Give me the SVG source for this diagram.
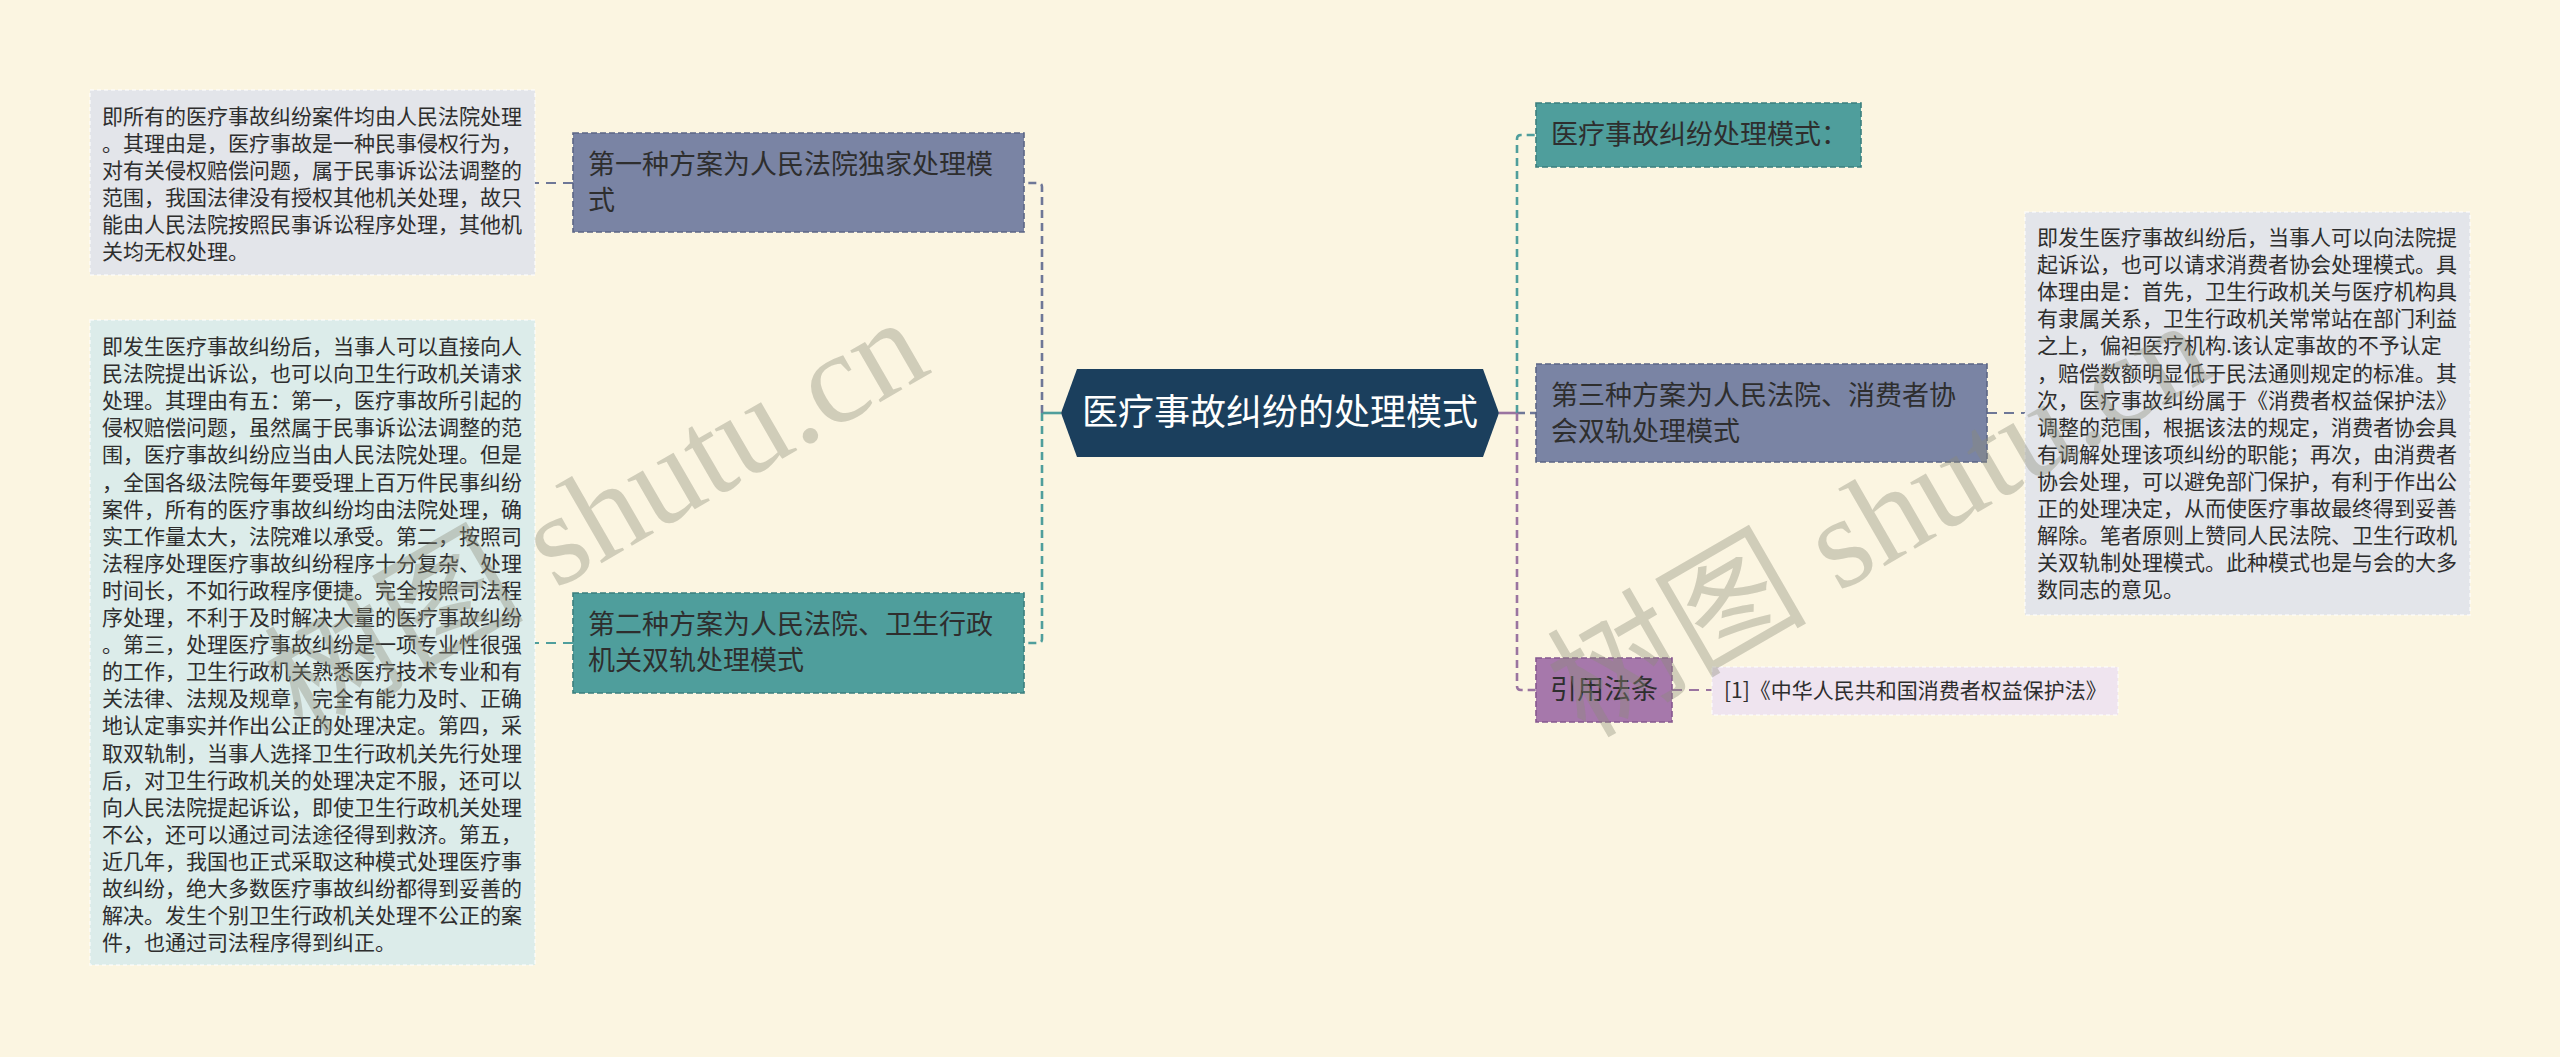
<svg xmlns="http://www.w3.org/2000/svg" width="2560" height="1057" viewBox="0 0 2560 1057">
<style>
.bg{fill:#fbf5e1}
.t{font-family:"Noto Sans CJK SC","Liberation Sans",sans-serif;fill:#2e2e2e}
.small{font-size:21px}
.mid{font-size:27px}
.slate{fill:#7a84a4;stroke:#5c6685;stroke-width:1.6;stroke-dasharray:6 3}
.teal{fill:#4f9e9c;stroke:#3b7f7d;stroke-width:1.6;stroke-dasharray:6 3}
.purple{fill:#a678ab;stroke:#875890;stroke-width:1.6;stroke-dasharray:6 3}
.box{stroke:#ffffff;stroke-opacity:.7;stroke-width:1.5;stroke-dasharray:4 3}
.c{fill:none;stroke-width:2.6;stroke-dasharray:8 5}
.leaf{fill:none;stroke-width:2;stroke-dasharray:10 7}
.cs{stroke:#6e7797}
.ct{stroke:#4f9e9c}
.cp{stroke:#9a74a0}
.wm{font-family:"Liberation Serif","Noto Sans CJK SC",serif;font-size:130px;fill:#8c8c78;fill-opacity:.38}
</style>
<rect class="bg" x="0" y="0" width="2560" height="1057"/>

<g id="connectors">
  <line x1="1061" y1="413" x2="1042" y2="413" stroke="#4f9e9c" stroke-width="2.6"/>
  <path class="c cs" d="M1042,413 L1042,187 Q1042,183 1038,183 L1023,183"/>
  <path class="c ct" d="M1042,413 L1042,639 Q1042,643 1038,643 L1023,643"/>
  <line x1="1499" y1="413" x2="1517" y2="413" stroke="#9a74a0" stroke-width="2.6"/>
  <path class="c ct" d="M1517,413 L1517,139 Q1517,135 1521,135 L1536,135"/>
  <path class="c cs" d="M1517,413 L1536,413"/>
  <path class="c cp" d="M1517,413 L1517,686 Q1517,690 1521,690 L1536,690"/>
  <path class="leaf cs" d="M573,183 L535,183"/>
  <path class="leaf ct" d="M573,643 L535,643"/>
  <path class="leaf cs" d="M1987,413 L2025,413"/>
  <path class="leaf cp" d="M1672,690 L1712,690"/>
</g>

<g id="center">
  <polygon points="1061,413 1077,369 1483,369 1499,413 1483,457 1077,457" fill="#1b3f5d"/>
  <text x="1280" y="425" text-anchor="middle" font-family="Noto Sans CJK SC, Liberation Sans, sans-serif" font-size="36" fill="#ffffff">医疗事故纠纷的处理模式</text>
</g>

<g id="node1">
  <rect class="slate" x="573" y="133" width="451" height="99"/>
  <text class="t mid" x="588" y="174">第一种方案为人民法院独家处理模</text>
  <text class="t mid" x="588" y="210">式</text>
</g>

<g id="node2">
  <rect class="teal" x="573" y="593" width="451" height="100"/>
  <text class="t mid" x="588" y="634">第二种方案为人民法院、卫生行政</text>
  <text class="t mid" x="588" y="670">机关双轨处理模式</text>
</g>

<g id="leaf1">
  <rect class="box" x="90" y="90" width="445" height="185" fill="#e3e5ea"/>
  <text class="t small">
    <tspan x="102" y="124">即所有的医疗事故纠纷案件均由人民法院处理</tspan>
    <tspan x="102" y="151">。其理由是，医疗事故是一种民事侵权行为，</tspan>
    <tspan x="102" y="178">对有关侵权赔偿问题，属于民事诉讼法调整的</tspan>
    <tspan x="102" y="205">范围，我国法律没有授权其他机关处理，故只</tspan>
    <tspan x="102" y="232">能由人民法院按照民事诉讼程序处理，其他机</tspan>
    <tspan x="102" y="259">关均无权处理。</tspan>
  </text>
</g>

<g id="leaf2">
  <rect class="box" x="90" y="320" width="445" height="645" fill="#dcecea"/>
  <text class="t small">
    <tspan x="102" y="354">即发生医疗事故纠纷后，当事人可以直接向人</tspan>
    <tspan x="102" y="381.1">民法院提出诉讼，也可以向卫生行政机关请求</tspan>
    <tspan x="102" y="408.2">处理。其理由有五：第一，医疗事故所引起的</tspan>
    <tspan x="102" y="435.3">侵权赔偿问题，虽然属于民事诉讼法调整的范</tspan>
    <tspan x="102" y="462.4">围，医疗事故纠纷应当由人民法院处理。但是</tspan>
    <tspan x="102" y="489.5">，全国各级法院每年要受理上百万件民事纠纷</tspan>
    <tspan x="102" y="516.6">案件，所有的医疗事故纠纷均由法院处理，确</tspan>
    <tspan x="102" y="543.7">实工作量太大，法院难以承受。第二，按照司</tspan>
    <tspan x="102" y="570.8">法程序处理医疗事故纠纷程序十分复杂、处理</tspan>
    <tspan x="102" y="597.9">时间长，不如行政程序便捷。完全按照司法程</tspan>
    <tspan x="102" y="625">序处理，不利于及时解决大量的医疗事故纠纷</tspan>
    <tspan x="102" y="652.1">。第三，处理医疗事故纠纷是一项专业性很强</tspan>
    <tspan x="102" y="679.2">的工作，卫生行政机关熟悉医疗技术专业和有</tspan>
    <tspan x="102" y="706.3">关法律、法规及规章，完全有能力及时、正确</tspan>
    <tspan x="102" y="733.4">地认定事实并作出公正的处理决定。第四，采</tspan>
    <tspan x="102" y="760.5">取双轨制，当事人选择卫生行政机关先行处理</tspan>
    <tspan x="102" y="787.6">后，对卫生行政机关的处理决定不服，还可以</tspan>
    <tspan x="102" y="814.7">向人民法院提起诉讼，即使卫生行政机关处理</tspan>
    <tspan x="102" y="841.8">不公，还可以通过司法途径得到救济。第五，</tspan>
    <tspan x="102" y="868.9">近几年，我国也正式采取这种模式处理医疗事</tspan>
    <tspan x="102" y="896">故纠纷，绝大多数医疗事故纠纷都得到妥善的</tspan>
    <tspan x="102" y="923.1">解决。发生个别卫生行政机关处理不公正的案</tspan>
    <tspan x="102" y="950.2">件，也通过司法程序得到纠正。</tspan>
  </text>
</g>

<g id="node-mode">
  <rect class="teal" x="1536" y="103" width="325" height="64"/>
  <text class="t mid" x="1551" y="144">医疗事故纠纷处理模式：</text>
</g>

<g id="node3">
  <rect class="slate" x="1536" y="364" width="451" height="98"/>
  <text class="t mid" x="1551" y="405">第三种方案为人民法院、消费者协</text>
  <text class="t mid" x="1551" y="441">会双轨处理模式</text>
</g>

<g id="leaf3">
  <rect class="box" x="2025" y="212" width="445" height="403" fill="#e3e5ea"/>
  <text class="t small">
    <tspan x="2037" y="245">即发生医疗事故纠纷后，当事人可以向法院提</tspan>
    <tspan x="2037" y="272.1">起诉讼，也可以请求消费者协会处理模式。具</tspan>
    <tspan x="2037" y="299.2">体理由是：首先，卫生行政机关与医疗机构具</tspan>
    <tspan x="2037" y="326.3">有隶属关系，卫生行政机关常常站在部门利益</tspan>
    <tspan x="2037" y="353.4">之上，偏袒医疗机构.该认定事故的不予认定</tspan>
    <tspan x="2037" y="380.5">，赔偿数额明显低于民法通则规定的标准。其</tspan>
    <tspan x="2037" y="407.6">次，医疗事故纠纷属于《消费者权益保护法》</tspan>
    <tspan x="2037" y="434.7">调整的范围，根据该法的规定，消费者协会具</tspan>
    <tspan x="2037" y="461.8">有调解处理该项纠纷的职能；再次，由消费者</tspan>
    <tspan x="2037" y="488.9">协会处理，可以避免部门保护，有利于作出公</tspan>
    <tspan x="2037" y="516">正的处理决定，从而使医疗事故最终得到妥善</tspan>
    <tspan x="2037" y="543.1">解除。笔者原则上赞同人民法院、卫生行政机</tspan>
    <tspan x="2037" y="570.2">关双轨制处理模式。此种模式也是与会的大多</tspan>
    <tspan x="2037" y="597.3">数同志的意见。</tspan>
  </text>
</g>

<g id="node-ref">
  <rect class="purple" x="1536" y="658" width="136" height="64"/>
  <text class="t mid" x="1550" y="699">引用法条</text>
</g>

<g id="leaf-ref">
  <rect class="box" x="1712" y="667" width="406" height="48" fill="#efe4ef"/>
  <text class="t small" x="1724" y="698">[1]《中华人民共和国消费者权益保护法》</text>
</g>

<g id="watermarks">
  <text class="wm" transform="translate(302,736) rotate(-30)">树图 shutu.cn</text>
  <text class="wm" transform="translate(1585,739) rotate(-30)">树图 shutu.cn</text>
</g>
</svg>
